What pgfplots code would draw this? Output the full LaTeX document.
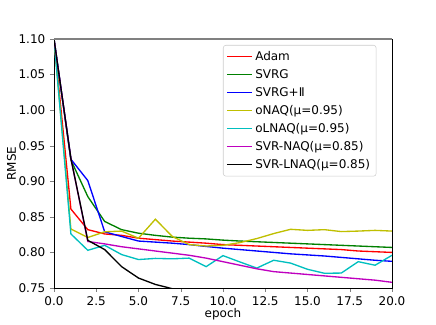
\documentclass[border=0pt]{standalone}
\usepackage{pgfplots}
\pgfplotsset{compat=1.18}
\usepackage{fontspec}
\setmainfont{DejaVu Sans}
\definecolor{mplg}{rgb}{0,0.5,0}
\definecolor{mply}{rgb}{0.75,0.75,0}
\definecolor{mplc}{rgb}{0,0.75,0.75}
\definecolor{mplm}{rgb}{0.75,0,0.75}
\begin{document}
\begin{tikzpicture}
\begin{axis}[
  name=a,
  scale only axis,
  width=253.5pt, height=186.75pt,
  xmin=0, xmax=20, ymin=0.75, ymax=1.10,
  xtick={0,2.5,...,20}, ytick={0.75,0.80,...,1.101},
  xticklabel style={/pgf/number format/.cd, fixed, fixed zerofill, precision=1},
  yticklabel style={/pgf/number format/.cd, fixed, fixed zerofill, precision=2},
  /pgf/number format/assume math mode=true,
  tick align=outside, tick pos=left,
  major tick length=3pt,
  font=\fontsize{9}{10}\selectfont,
  xlabel={epoch}, ylabel={RMSE},
  xlabel style={yshift=5pt}, ylabel style={yshift=-5pt},
  every axis plot/.append style={line width=1pt},
  legend style={at={(0.5,0.976)}, anchor=north west, draw=gray!40, rounded corners=2pt,
    font=\fontsize{9}{10}\selectfont, row sep=1.2pt, inner sep=2.5pt},
  legend cell align=left,
  legend image code/.code={\draw[#1, line width=1pt] (0pt,0pt) -- (18.5pt,0pt);},
]
\addplot[red] coordinates {(0,1.10) (1,0.861) (2,0.832) (3,0.826) (4,0.824) (5,0.820) (6,0.818) (7,0.816) (8,0.8145) (9,0.813) (10,0.811) (11,0.810) (12,0.809) (13,0.808) (14,0.807) (15,0.806) (16,0.805) (17,0.804) (18,0.802) (19,0.801) (20,0.800)};
\addlegendentry{Adam}
\addplot[mplg] coordinates {(0,1.10) (1,0.930) (2,0.8785) (3,0.8435) (4,0.832) (5,0.827) (6,0.824) (7,0.8215) (8,0.820) (9,0.819) (10,0.8173) (11,0.816) (12,0.815) (13,0.814) (14,0.813) (15,0.812) (16,0.811) (17,0.810) (18,0.809) (19,0.808) (20,0.807)};
\addlegendentry{SVRG}
\addplot[blue] coordinates {(0,1.10) (1,0.931) (2,0.901) (3,0.829) (4,0.8224) (5,0.816) (6,0.8145) (7,0.813) (8,0.811) (9,0.8084) (10,0.806) (11,0.804) (12,0.802) (13,0.800) (14,0.798) (15,0.7965) (16,0.795) (17,0.793) (18,0.791) (19,0.789) (20,0.7875)};
\addlegendentry{SVRG+Ⅱ}
\addplot[mply] coordinates {(0,1.10) (1,0.833) (2,0.821) (3,0.829) (4,0.830) (5,0.820) (6,0.8467) (7,0.8224) (8,0.811) (9,0.809) (10,0.810) (11,0.8138) (12,0.8195) (13,0.8265) (14,0.8325) (15,0.831) (16,0.832) (17,0.8293) (18,0.830) (19,0.831) (20,0.830)};
\addlegendentry{oNAQ(μ=0.95)}
\addplot[mplc] coordinates {(0,1.10) (1,0.826) (2,0.803) (3,0.810) (4,0.797) (5,0.790) (6,0.7916) (7,0.791) (8,0.792) (9,0.780) (10,0.7955) (11,0.7866) (12,0.778) (13,0.789) (14,0.785) (15,0.7763) (16,0.7707) (17,0.771) (18,0.787) (19,0.782) (20,0.796)};
\addlegendentry{oLNAQ(μ=0.95)}
\addplot[mplm] coordinates {(0,1.10) (1,0.932) (2,0.8154) (3,0.812) (4,0.808) (5,0.805) (6,0.802) (7,0.799) (8,0.796) (9,0.792) (10,0.787) (11,0.782) (12,0.777) (13,0.773) (14,0.771) (15,0.769) (16,0.767) (17,0.765) (18,0.763) (19,0.761) (20,0.758)};
\addlegendentry{SVR-NAQ(μ=0.85)}
\addplot[black] coordinates {(0,1.10) (1,0.932) (2,0.817) (3,0.804) (4,0.780) (5,0.764) (6,0.755) (7,0.749) (8,0.745) (9,0.742) (10,0.739) (11,0.737) (12,0.735) (13,0.733) (14,0.731) (15,0.730) (16,0.729) (17,0.728) (18,0.727) (19,0.726) (20,0.725)};
\addlegendentry{SVR-LNAQ(μ=0.85)}
\draw[gray, line width=1.2pt] (rel axis cs:0,1) -- (rel axis cs:1,1);
\end{axis}
\path ([shift={(-40.5pt,-27pt)}]a.south west) rectangle ([shift={(33pt,29.25pt)}]a.north east);
\end{tikzpicture}
\end{document}
